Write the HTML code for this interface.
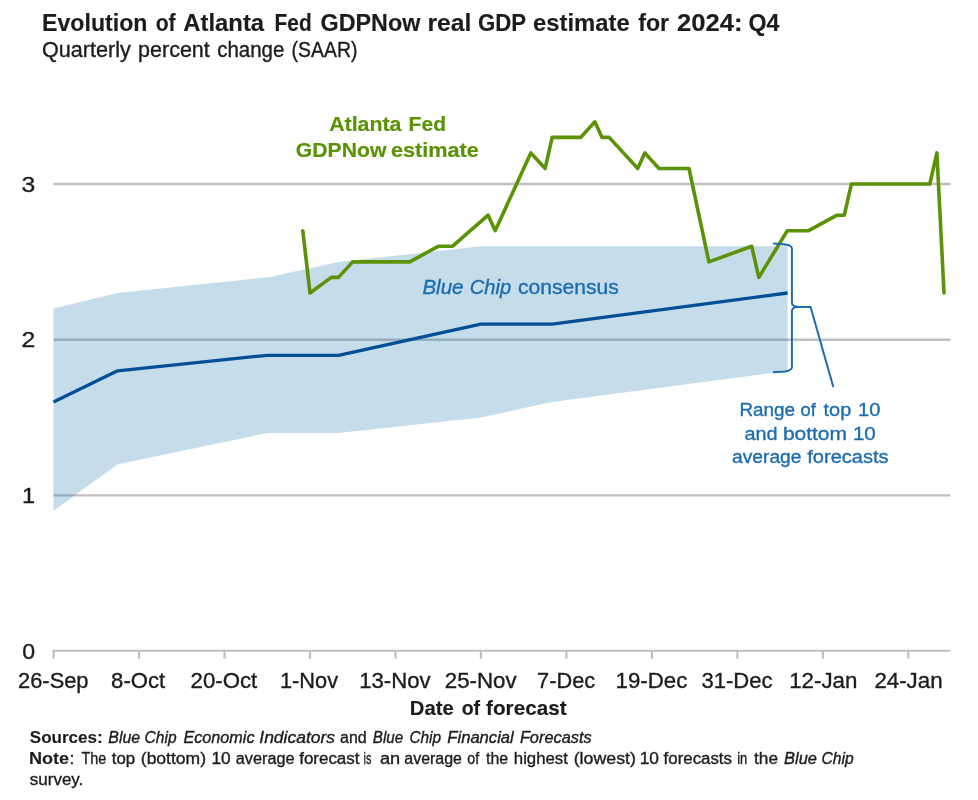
<!DOCTYPE html>
<html lang="en"><head><meta charset="utf-8"><title>Evolution of Atlanta Fed GDPNow real GDP estimate for 2024: Q4</title>
<style>
html,body{margin:0;padding:0;background:#fff;}
body{width:978px;height:800px;overflow:hidden;}
svg{display:block;font-family:"Liberation Sans",sans-serif;}
text{fill:#1c1c1c;stroke:#1c1c1c;stroke-width:0.35px;}
.title{font-size:23.6px;font-weight:bold;stroke-width:0.15px;}
.sub{font-size:21.6px;}
.glab{font-size:20px;font-weight:bold;fill:#5a9306;stroke:#5a9306;stroke-width:0.2px;}
.blab{font-size:19.1px;fill:#1c6cb0;stroke:#1c6cb0;}
.bc{font-size:19.8px;}
.tick{font-size:22px;}
.xt{font-size:19.8px;font-weight:bold;stroke-width:0.15px;}
.foot{font-size:16px;}
.it{font-style:italic;}
.b{font-weight:bold;stroke-width:0.1px;}
</style></head><body>
<svg width="978" height="800" viewBox="0 0 978 800">
<rect width="978" height="800" fill="#ffffff"/>
<line x1="53.5" x2="950.5" y1="495.35" y2="495.35" stroke="#c0c0c0" stroke-width="2.4"/>
<line x1="53.5" x2="950.5" y1="339.70" y2="339.70" stroke="#c0c0c0" stroke-width="2.4"/>
<line x1="53.5" x2="950.5" y1="184.05" y2="184.05" stroke="#c0c0c0" stroke-width="2.4"/>
<polygon points="53.5,308.6 117.6,293.0 267.2,277.4 338.5,261.9 480.9,246.3 552.2,246.3 787.6,246.3 787.6,370.8 552.2,402.0 480.9,417.5 338.5,433.1 267.2,433.1 117.6,464.2 53.5,510.9" fill="#086aa6" fill-opacity="0.235"/>
<line x1="52.5" x2="950.5" y1="650.7" y2="650.7" stroke="#c0c0c0" stroke-width="2"/>
<line x1="53.5" x2="53.5" y1="650.6" y2="658.8" stroke="#c0c0c0" stroke-width="2.2"/>
<line x1="139.0" x2="139.0" y1="650.6" y2="658.8" stroke="#c0c0c0" stroke-width="2.2"/>
<line x1="224.5" x2="224.5" y1="650.6" y2="658.8" stroke="#c0c0c0" stroke-width="2.2"/>
<line x1="310.0" x2="310.0" y1="650.6" y2="658.8" stroke="#c0c0c0" stroke-width="2.2"/>
<line x1="395.5" x2="395.5" y1="650.6" y2="658.8" stroke="#c0c0c0" stroke-width="2.2"/>
<line x1="480.9" x2="480.9" y1="650.6" y2="658.8" stroke="#c0c0c0" stroke-width="2.2"/>
<line x1="566.4" x2="566.4" y1="650.6" y2="658.8" stroke="#c0c0c0" stroke-width="2.2"/>
<line x1="651.9" x2="651.9" y1="650.6" y2="658.8" stroke="#c0c0c0" stroke-width="2.2"/>
<line x1="737.4" x2="737.4" y1="650.6" y2="658.8" stroke="#c0c0c0" stroke-width="2.2"/>
<line x1="822.9" x2="822.9" y1="650.6" y2="658.8" stroke="#c0c0c0" stroke-width="2.2"/>
<line x1="908.4" x2="908.4" y1="650.6" y2="658.8" stroke="#c0c0c0" stroke-width="2.2"/>
<polyline points="53.5,402.0 117.6,370.8 267.2,355.3 338.5,355.3 480.9,324.1 552.2,324.1 787.6,293.0" fill="none" stroke="#034f96" stroke-width="3.3" stroke-linejoin="round"/>
<polyline points="302.8,230.7 310.0,293.0 331.3,277.4 338.5,277.4 352.7,261.9 409.7,261.9 438.2,246.3 452.4,246.3 488.1,215.2 495.2,230.7 530.8,152.9 545.1,168.5 552.2,137.4 580.7,137.4 594.9,121.8 602.0,137.4 609.2,137.4 623.4,152.9 637.7,168.5 644.8,152.9 659.0,168.5 689.0,168.5 708.9,261.9 751.7,246.3 758.8,277.4 787.3,230.7 808.6,230.7 837.1,215.2 844.3,215.2 851.4,184.0 929.8,184.0 936.9,152.9 944.0,293.0" fill="none" stroke="#5a9306" stroke-width="3.6" stroke-linejoin="round" stroke-linecap="round"/>
<path d="M773.8 243.5 L785 244.4 C789.6 244.8 791.9 245.6 791.9 248.6 L791.9 302.6 C791.9 305.4 793.2 306.4 797 306.7 L810.6 306.9 L833.1 386.3 M797 306.9 C793.2 307.3 791.9 308.4 791.9 311.2 L791.9 367 C791.9 370 789.6 370.9 785 371.4 L773.8 372.3" fill="none" stroke="#1c6cb0" stroke-width="2" stroke-linecap="round" stroke-linejoin="round"/>
<text y="30.5" class="title"><tspan x="42.10" textLength="105.30" lengthAdjust="spacingAndGlyphs">Evolution</tspan> <tspan x="155.70" textLength="19.90" lengthAdjust="spacingAndGlyphs">of</tspan> <tspan x="183.30" textLength="80.80" lengthAdjust="spacingAndGlyphs">Atlanta</tspan> <tspan x="274.60" textLength="37.10" lengthAdjust="spacingAndGlyphs">Fed</tspan> <tspan x="320.50" textLength="99.80" lengthAdjust="spacingAndGlyphs">GDPNow</tspan> <tspan x="427.40" textLength="43.90" lengthAdjust="spacingAndGlyphs">real</tspan> <tspan x="477.90" textLength="47.70" lengthAdjust="spacingAndGlyphs">GDP</tspan> <tspan x="533.00" textLength="96.80" lengthAdjust="spacingAndGlyphs">estimate</tspan> <tspan x="638.30" textLength="30.80" lengthAdjust="spacingAndGlyphs">for</tspan> <tspan x="677.00" textLength="65.50" lengthAdjust="spacingAndGlyphs">2024:</tspan> <tspan x="748.50" textLength="31.00" lengthAdjust="spacingAndGlyphs">Q4</tspan></text>
<text y="57.4" class="sub"><tspan x="42.00" textLength="88.80" lengthAdjust="spacingAndGlyphs">Quarterly</tspan> <tspan x="138.10" textLength="71.70" lengthAdjust="spacingAndGlyphs">percent</tspan> <tspan x="217.20" textLength="67.20" lengthAdjust="spacingAndGlyphs">change</tspan> <tspan x="291.60" textLength="65.80" lengthAdjust="spacingAndGlyphs">(SAAR)</tspan></text>
<text y="130.9" class="glab"><tspan x="329.20" textLength="72.20" lengthAdjust="spacingAndGlyphs">Atlanta</tspan> <tspan x="408.60" textLength="37.40" lengthAdjust="spacingAndGlyphs">Fed</tspan></text>
<text y="156.5" class="glab"><tspan x="295.80" textLength="90.60" lengthAdjust="spacingAndGlyphs">GDPNow</tspan> <tspan x="390.90" textLength="87.80" lengthAdjust="spacingAndGlyphs">estimate</tspan></text>
<text y="293.7" class="blab bc"><tspan x="422.40" textLength="41.10" lengthAdjust="spacingAndGlyphs" class="it">Blue</tspan> <tspan x="469.80" textLength="41.40" lengthAdjust="spacingAndGlyphs" class="it">Chip</tspan> <tspan x="518.00" textLength="100.80" lengthAdjust="spacingAndGlyphs">consensus</tspan></text>
<text y="415.8" class="blab"><tspan x="739.40" textLength="55.60" lengthAdjust="spacingAndGlyphs">Range</tspan> <tspan x="800.60" textLength="15.30" lengthAdjust="spacingAndGlyphs">of</tspan> <tspan x="823.60" textLength="27.60" lengthAdjust="spacingAndGlyphs">top</tspan> <tspan x="858.00" textLength="22.40" lengthAdjust="spacingAndGlyphs">10</tspan></text>
<text y="439.6" class="blab"><tspan x="744.40" textLength="33.10" lengthAdjust="spacingAndGlyphs">and</tspan> <tspan x="782.90" textLength="64.10" lengthAdjust="spacingAndGlyphs">bottom</tspan> <tspan x="852.90" textLength="22.90" lengthAdjust="spacingAndGlyphs">10</tspan></text>
<text y="463.2" class="blab"><tspan x="732.00" textLength="69.50" lengthAdjust="spacingAndGlyphs">average</tspan> <tspan x="807.30" textLength="81.30" lengthAdjust="spacingAndGlyphs">forecasts</tspan></text>
<text y="191.5" class="tick"><tspan x="21.40" textLength="13.80" lengthAdjust="spacingAndGlyphs">3</tspan></text>
<text y="347.3" class="tick"><tspan x="21.40" textLength="13.80" lengthAdjust="spacingAndGlyphs">2</tspan></text>
<text y="503" class="tick"><tspan x="21.95" textLength="13.15" lengthAdjust="spacingAndGlyphs">1</tspan></text>
<text y="658.5" class="tick"><tspan x="22.30" textLength="12.90" lengthAdjust="spacingAndGlyphs">0</tspan></text>
<text y="687.8" class="tick"><tspan x="18.10" textLength="70.40" lengthAdjust="spacingAndGlyphs">26-Sep</tspan></text>
<text y="687.8" class="tick"><tspan x="111.10" textLength="54.00" lengthAdjust="spacingAndGlyphs">8-Oct</tspan></text>
<text y="687.8" class="tick"><tspan x="190.50" textLength="66.80" lengthAdjust="spacingAndGlyphs">20-Oct</tspan></text>
<text y="687.8" class="tick"><tspan x="280.00" textLength="58.00" lengthAdjust="spacingAndGlyphs">1-Nov</tspan></text>
<text y="687.8" class="tick"><tspan x="359.20" textLength="71.50" lengthAdjust="spacingAndGlyphs">13-Nov</tspan></text>
<text y="687.8" class="tick"><tspan x="444.80" textLength="71.80" lengthAdjust="spacingAndGlyphs">25-Nov</tspan></text>
<text y="687.8" class="tick"><tspan x="537.10" textLength="58.00" lengthAdjust="spacingAndGlyphs">7-Dec</tspan></text>
<text y="687.8" class="tick"><tspan x="615.50" textLength="71.80" lengthAdjust="spacingAndGlyphs">19-Dec</tspan></text>
<text y="687.8" class="tick"><tspan x="701.40" textLength="71.10" lengthAdjust="spacingAndGlyphs">31-Dec</tspan></text>
<text y="687.8" class="tick"><tspan x="789.20" textLength="68.20" lengthAdjust="spacingAndGlyphs">12-Jan</tspan></text>
<text y="687.8" class="tick"><tspan x="874.40" textLength="68.20" lengthAdjust="spacingAndGlyphs">24-Jan</tspan></text>
<text y="715.4" class="xt"><tspan x="409.80" textLength="43.90" lengthAdjust="spacingAndGlyphs">Date</tspan> <tspan x="461.70" textLength="18.40" lengthAdjust="spacingAndGlyphs">of</tspan> <tspan x="486.10" textLength="80.50" lengthAdjust="spacingAndGlyphs">forecast</tspan></text>
<text y="743" class="foot"><tspan x="29.80" textLength="72.90" lengthAdjust="spacingAndGlyphs" class="b">Sources:</tspan> <tspan x="108.30" textLength="31.90" lengthAdjust="spacingAndGlyphs" class="it">Blue</tspan> <tspan x="144.60" textLength="32.00" lengthAdjust="spacingAndGlyphs" class="it">Chip</tspan> <tspan x="183.50" textLength="71.00" lengthAdjust="spacingAndGlyphs" class="it">Economic</tspan> <tspan x="259.30" textLength="75.70" lengthAdjust="spacingAndGlyphs" class="it">Indicators</tspan> <tspan x="340.10" textLength="26.60" lengthAdjust="spacingAndGlyphs">and</tspan> <tspan x="372.80" textLength="30.50" lengthAdjust="spacingAndGlyphs" class="it">Blue</tspan> <tspan x="409.40" textLength="31.70" lengthAdjust="spacingAndGlyphs" class="it">Chip</tspan> <tspan x="447.30" textLength="66.50" lengthAdjust="spacingAndGlyphs" class="it">Financial</tspan> <tspan x="519.90" textLength="71.70" lengthAdjust="spacingAndGlyphs" class="it">Forecasts</tspan></text>
<text y="764.3" class="foot"><tspan x="28.90" textLength="40.20" lengthAdjust="spacingAndGlyphs" class="b">Note</tspan> <tspan x="69.60" textLength="4.90" lengthAdjust="spacingAndGlyphs">:</tspan> <tspan x="81.40" textLength="24.80" lengthAdjust="spacingAndGlyphs">The</tspan> <tspan x="111.80" textLength="23.40" lengthAdjust="spacingAndGlyphs">top</tspan> <tspan x="140.80" textLength="65.20" lengthAdjust="spacingAndGlyphs">(bottom)</tspan> <tspan x="211.40" textLength="19.30" lengthAdjust="spacingAndGlyphs">10</tspan> <tspan x="235.80" textLength="58.70" lengthAdjust="spacingAndGlyphs">average</tspan> <tspan x="299.20" textLength="60.30" lengthAdjust="spacingAndGlyphs">forecast</tspan> <tspan x="363.60" textLength="7.80" lengthAdjust="spacingAndGlyphs">is</tspan> <tspan x="380.00" textLength="20.20" lengthAdjust="spacingAndGlyphs">an</tspan> <tspan x="404.30" textLength="57.70" lengthAdjust="spacingAndGlyphs">average</tspan> <tspan x="467.30" textLength="11.80" lengthAdjust="spacingAndGlyphs">of</tspan> <tspan x="486.10" textLength="22.10" lengthAdjust="spacingAndGlyphs">the</tspan> <tspan x="513.80" textLength="54.10" lengthAdjust="spacingAndGlyphs">highest</tspan> <tspan x="573.70" textLength="62.20" lengthAdjust="spacingAndGlyphs">(lowest)</tspan> <tspan x="639.70" textLength="19.30" lengthAdjust="spacingAndGlyphs">10</tspan> <tspan x="663.60" textLength="68.40" lengthAdjust="spacingAndGlyphs">forecasts</tspan> <tspan x="737.20" textLength="10.10" lengthAdjust="spacingAndGlyphs">in</tspan> <tspan x="754.00" textLength="24.00" lengthAdjust="spacingAndGlyphs">the</tspan> <tspan x="784.10" textLength="32.90" lengthAdjust="spacingAndGlyphs" class="it">Blue</tspan> <tspan x="821.50" textLength="32.20" lengthAdjust="spacingAndGlyphs" class="it">Chip</tspan></text>
<text y="785.4" class="foot"><tspan x="29.80" textLength="53.50" lengthAdjust="spacingAndGlyphs">survey.</tspan></text>
</svg>
</body></html>
